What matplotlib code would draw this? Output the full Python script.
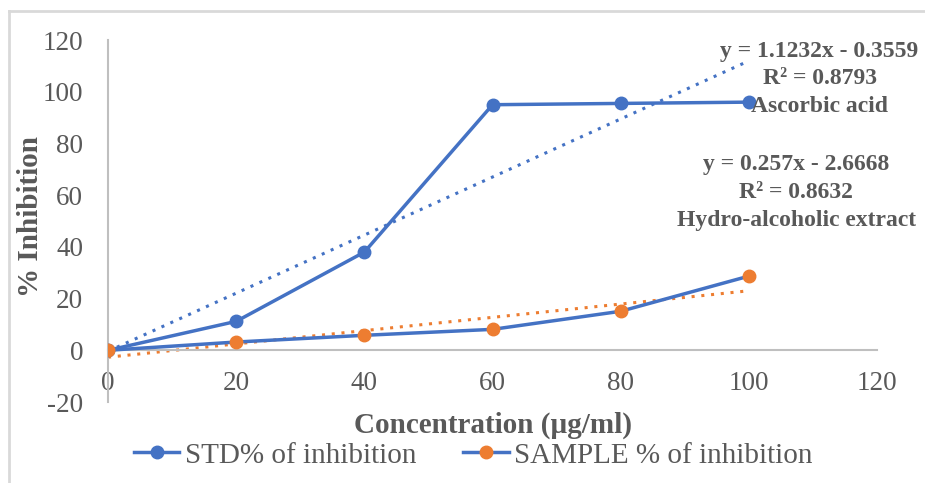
import matplotlib.pyplot as plt
import numpy as np
from matplotlib.lines import Line2D

conc = [0, 20, 40, 60, 80, 100]
std_inhib = [0, 11.2, 38, 95, 95.5, 96]
sample_inhib = [0, 3.2, 5.8, 8.1, 15.1, 28.7]

# trendline coefficients as shown on the chart
std_fit = (1.1232, -0.3559)
sample_fit = (0.257, -2.6668)

x_ticks = [0, 20, 40, 60, 80, 100, 120]
y_ticks = [-20, 0, 20, 40, 60, 80, 100, 120]

BLUE = '#4472C4'
ORANGE = '#ED7D31'
GREY = '#595959'
AXIS = '#BFBFBF'

plt.rcParams['font.family'] = ['Liberation Serif', 'DejaVu Serif']
plt.rcParams['axes.unicode_minus'] = False


def main():
    fig = plt.figure(figsize=(9.25, 4.83), dpi=100)
    ax = fig.add_axes([0.1168, 0.1677, 0.8314, 0.7493])

    # chart frame (only top and left edges are visible)
    fig.add_artist(Line2D([9 / 925, 9 / 925], [0, 1 - 11 / 483], transform=fig.transFigure, color='#D9D9D9', lw=2))
    fig.add_artist(Line2D([9 / 925, 1], [1 - 11 / 483, 1 - 11 / 483], transform=fig.transFigure, color='#D9D9D9', lw=2))

    trend_x = np.array([0, 100])
    ax.plot(trend_x, std_fit[0] * trend_x + std_fit[1], linestyle=(0, (1, 2.2)), color=BLUE, lw=2.2, zorder=2)
    ax.plot(trend_x, sample_fit[0] * trend_x + sample_fit[1], linestyle=(0, (1, 2.2)), color=ORANGE, lw=2.2, zorder=2)

    ax.plot(conc, std_inhib, color=BLUE, lw=2.5, marker='o', ms=9, mfc=BLUE, mec=BLUE,
            label='STD% of inhibition', zorder=3)
    ax.plot(conc, sample_inhib, color=BLUE, lw=2.5, marker='o', ms=9, mfc=ORANGE, mec=ORANGE,
            label='SAMPLE % of inhibition', zorder=3)

    ax.set_xlim(0, 120)
    ax.set_ylim(-20, 120)
    ax.set_xticks(x_ticks)
    ax.set_yticks(y_ticks)

    for side in ['top', 'right']:
        ax.spines[side].set_visible(False)
    ax.spines['bottom'].set_position(('data', 0))
    ax.spines['bottom'].set_color(AXIS)
    ax.spines['left'].set_color(AXIS)
    ax.spines['bottom'].set_linewidth(1.5)
    ax.spines['left'].set_linewidth(1.5)
    ax.tick_params(axis='x', length=0, pad=15, labelsize=19.5, labelcolor=GREY)
    ax.tick_params(axis='y', length=0, pad=18, labelsize=19.5, labelcolor=GREY)

    fig.text(0.0335, 0.551, '% Inhibition', rotation=90, ha='center', va='center',
             fontsize=21, fontweight='bold', color=GREY)
    fig.text(0.533, 0.12, 'Concentration (\u00b5g/ml)', ha='center', va='center',
             fontsize=21, fontweight='bold', color=GREY)

    ax.text(0.886, 0.915, 'y = 1.1232x - 0.3559\nR\u00b2 = 0.8793\nAscorbic acid',
            transform=fig.transFigure, ha='center', va='top', fontsize=17, fontweight='bold',
            color=GREY, linespacing=1.4)
    ax.text(0.861, 0.682, 'y = 0.257x - 2.6668\nR\u00b2 = 0.8632\nHydro-alcoholic extract',
            transform=fig.transFigure, ha='center', va='top', fontsize=17, fontweight='bold',
            color=GREY, linespacing=1.45)

    fig.legend(loc='center', bbox_to_anchor=(0.512, 0.057), ncol=2, frameon=False,
               fontsize=21, labelcolor=GREY, handlelength=1.55, columnspacing=1.6,
               handletextpad=0.2)

    fig.savefig('out.png', dpi=100)


if __name__ == '__main__':
    main()
